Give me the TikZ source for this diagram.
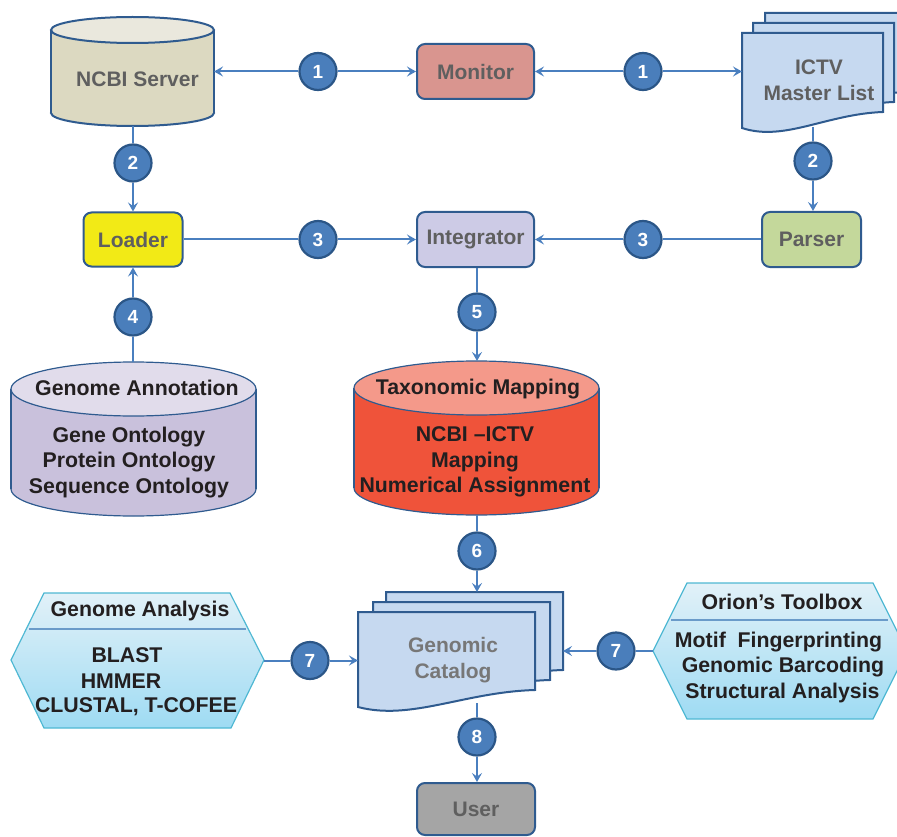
\documentclass[tikz,border=0pt]{standalone}
\usepackage{fontspec}
\setmainfont{Liberation Sans}
\usetikzlibrary{arrows.meta}
\definecolor{boxb}{HTML}{2F5B8F}
\definecolor{linec}{HTML}{4A7FBF}
\definecolor{numfill}{HTML}{4A7EBB}
\definecolor{numb}{HTML}{2B5687}
\definecolor{boxtxt}{HTML}{5F5F5F}
\definecolor{dark}{HTML}{231F20}
\definecolor{ncbibody}{HTML}{DCD9C1}
\definecolor{ncbitop}{HTML}{EAE8DD}
\definecolor{monitorc}{HTML}{D9958F}
\definecolor{loaderc}{HTML}{F2EA16}
\definecolor{integc}{HTML}{CDCBE6}
\definecolor{parserc}{HTML}{C4D89B}
\definecolor{userc}{HTML}{A5A5A5}
\definecolor{docfill}{HTML}{C6D9F0}
\definecolor{gabody}{HTML}{C9C1DC}
\definecolor{gatop}{HTML}{E1DCEB}
\definecolor{taxbody}{HTML}{EF533A}
\definecolor{taxtop}{HTML}{F4998A}
\definecolor{hextop}{HTML}{E2F1F8}
\definecolor{hexbot}{HTML}{9EDBF3}
\definecolor{hexb}{HTML}{4FB8D3}
\definecolor{divc}{HTML}{6A9BC9}
\newcommand\boxfont{\fontsize{21}{26}\selectfont\bfseries}
\newcommand\numfont{\fontsize{19}{22}\selectfont\bfseries}
\newcommand\dbfont{\fontsize{21.3}{25.5}\selectfont\bfseries}
\newcommand\mydoc[5]{\filldraw[docst] (#1,#2) -- (#3,#2) -- (#3,#4) .. controls ({#3-0.4*(#3-#1)},{#4+2}) and ({#1+0.3*(#3-#1)},{#5+14}) .. (#1,#5) -- cycle;}
\newcommand\mycyl[8]{%
 \filldraw[fill=#6, draw=boxb, line width=#8] ({(#1+#2)/2},#4) ellipse [x radius={(#2-#1)/2}, y radius=#5];
 \fill[#6] (#1,#3) rectangle (#2,#4);
 \draw[boxb, line width=#8] (#1,#3) -- (#1,#4) (#2,#3) -- (#2,#4);
 \filldraw[fill=#7, draw=boxb, line width=#8] ({(#1+#2)/2},#3) ellipse [x radius={(#2-#1)/2}, y radius=#5];}
\begin{document}
\begin{tikzpicture}[x=1pt,y=-1pt,
  box/.style={draw=boxb, line width=2pt, rounded corners=8pt, minimum width=117pt, minimum height=55pt, font=\boxfont, text=boxtxt, inner sep=0pt},
  num/.style={circle, fill=numfill, draw=numb, line width=2.2pt, minimum size=37pt, inner sep=0pt, text=white, font=\numfont},
  line/.style={draw=linec, line width=2pt},
  conn/.style={line, -{Stealth[length=9pt,width=10pt,inset=3.5pt]}},
  docst/.style={fill=docfill, draw=boxb, line width=2pt},
  ghost/.style={inner sep=0pt, outer sep=0pt},
  lbl/.style={inner sep=0pt, font=\dbfont, text=dark, align=center},
  glbl/.style={inner sep=0pt, font=\boxfont, text=boxtxt, align=center}
]
\useasboundingbox (0,0) rectangle (897,837);
\clip (0,0) rectangle (897,837);

% --- NCBI Server cylinder
\mycyl{51}{214}{30}{113}{13}{ncbibody}{ncbitop}{2pt}
\node[ghost, minimum width=163pt, minimum height=109pt] (ncbi) at (132.5,71.5) {};
\node[glbl] (ncbit) at (137.5,79) {NCBI Server};

% --- ICTV Master List documents
\mydoc{765}{13}{906}{92}{108}
\mydoc{753}{23}{894}{102}{118}
\mydoc{742}{33}{883}{112}{128}
\node[ghost, minimum width=141pt, minimum height=94pt] (ictv) at (812.5,80) {};
\node[glbl] (ictvt) at (819,80) {ICTV\\Master List};

% --- Genomic Catalog documents
\mydoc{386}{592}{563}{670}{687}
\mydoc{373}{602}{550}{680}{697}
\mydoc{358}{612}{535}{690}{707}
\node[ghost, minimum width=205pt, minimum height=111pt] (catalog) at (460.5,647.5) {};
\node[glbl, text=boxtxt!85!white] (catt) at (453,660) {Genomic\\Catalog};

% --- Genome Annotation cylinder
\mycyl{11}{256}{389}{489}{27}{gabody}{gatop}{1.2pt}
\node[ghost, minimum width=245pt, minimum height=154pt] (ga) at (133.5,439) {};
\node[lbl] (gat) at (137,388) {Genome Annotation};
\node[lbl] (gab) at (129,462.5) {Gene Ontology\\Protein Ontology\\Sequence Ontology};

% --- Taxonomic Mapping cylinder
\mycyl{354}{599}{388}{488}{27}{taxbody}{taxtop}{1.2pt}
\node[ghost, minimum width=245pt, minimum height=154pt] (tax) at (476.5,438) {};
\node[lbl] (taxt) at (478,389) {Taxonomic Mapping};
\node[lbl] (taxb) at (475,462) {NCBI --ICTV\\Mapping\\Numerical Assignment};

% --- Genome Analysis hexagon
\shadedraw[top color=hextop, bottom color=hexbot, draw=hexb, line width=1.2pt] (11,660) -- (44,593) -- (230,593) -- (264,660) -- (231,728) -- (44,728) -- cycle;
\draw[divc, line width=1.2pt] (29,629) -- (246,629);
\node[ghost, minimum width=253pt, minimum height=135pt] (gan) at (137.5,660.5) {};
\node[lbl] (gant) at (140,611) {Genome Analysis};
\node[lbl] (gan1) at (127,655) {BLAST};
\node[lbl] (gan2) at (121,681.5) {HMMER};
\node[lbl] (gan3) at (136,707) {CLUSTAL, T-COFEE};

% --- Orion's Toolbox hexagon
\shadedraw[top color=hextop, bottom color=hexbot, draw=hexb, line width=1.2pt] (653,651) -- (687,583) -- (873,583) -- (907,651) -- (873,719) -- (687,719) -- cycle;
\draw[divc, line width=1.2pt] (671,620) -- (888,620);
\node[ghost, minimum width=254pt, minimum height=136pt] (orion) at (780,651) {};
\node[lbl] (oriont) at (782,602) {Orion’s Toolbox};
\node[lbl] (orion1) at (778.5,642) {Motif\ \ Fingerprinting};
\node[lbl] (orion2) at (783,667.5) {Genomic Barcoding};
\node[lbl] (orion3) at (782.5,693) {Structural Analysis};

% --- boxes
\node[box, fill=monitorc] (monitor) at (475.5,71.5) {Monitor};
\node[box, fill=loaderc, minimum width=99pt, minimum height=54pt] (loader) at (133,239.5) {Loader};
\node[box, fill=integc] (integrator) at (475.5,239.5) {Integrator};
\node[box, fill=parserc, minimum width=99pt] (parser) at (811.5,239.5) {Parser};
\node[box, fill=userc, minimum width=118pt, minimum height=52pt] (user) at (476,809) {User};

% --- numbered circles
\node[num] (c1L) at (318,71.5) {1};
\node[num] (c1R) at (643,71.5) {1};
\node[num] (c2L) at (133,163) {2};
\node[num] (c2R) at (813,161) {2};
\node[num] (c3L) at (318,239.5) {3};
\node[num] (c3R) at (643,239.5) {3};
\node[num] (c4) at (133,317) {4};
\node[num] (c5) at (477,312) {5};
\node[num] (c6) at (477,551) {6};
\node[num] (c7L) at (310,660.5) {7};
\node[num] (c7R) at (616,651) {7};
\node[num] (c8) at (477,737) {8};

% --- connectors
\draw[conn] (c1L) -- (ncbi.east |- c1L);
\draw[conn] (c1L) -- (monitor);
\draw[conn] (c1R) -- (monitor);
\draw[conn] (c1R) -- (ictv.west |- c1R);
\draw[line] (c2L |- ncbi.south) -- (c2L);
\draw[conn] (c2L) -- (c2L |- loader.north);
\draw[line] (c2R |- ictv.south) -- (c2R);
\draw[conn] (c2R) -- (c2R |- parser.north);
\draw[line] (loader) -- (c3L);
\draw[conn] (c3L) -- (integrator);
\draw[line] (parser) -- (c3R);
\draw[conn] (c3R) -- (integrator);
\draw[line] (c4 |- ga.north) -- (c4);
\draw[conn] (c4) -- (c4 |- loader.south);
\draw[line] (c5 |- integrator.south) -- (c5);
\draw[conn] (c5) -- (c5 |- tax.north);
\draw[line] (c6 |- tax.south) -- (c6);
\draw[conn] (c6) -- (c6 |- catalog.north);
\draw[line] (gan.east) -- (c7L);
\draw[conn] (c7L) -- (catalog.west |- c7L);
\draw[line] (orion.west) -- (c7R);
\draw[conn] (c7R) -- (catalog.east |- c7R);
\draw[line] (c8 |- catalog.south) -- (c8);
\draw[conn] (c8) -- (c8 |- user.north);
\end{tikzpicture}
\end{document}
